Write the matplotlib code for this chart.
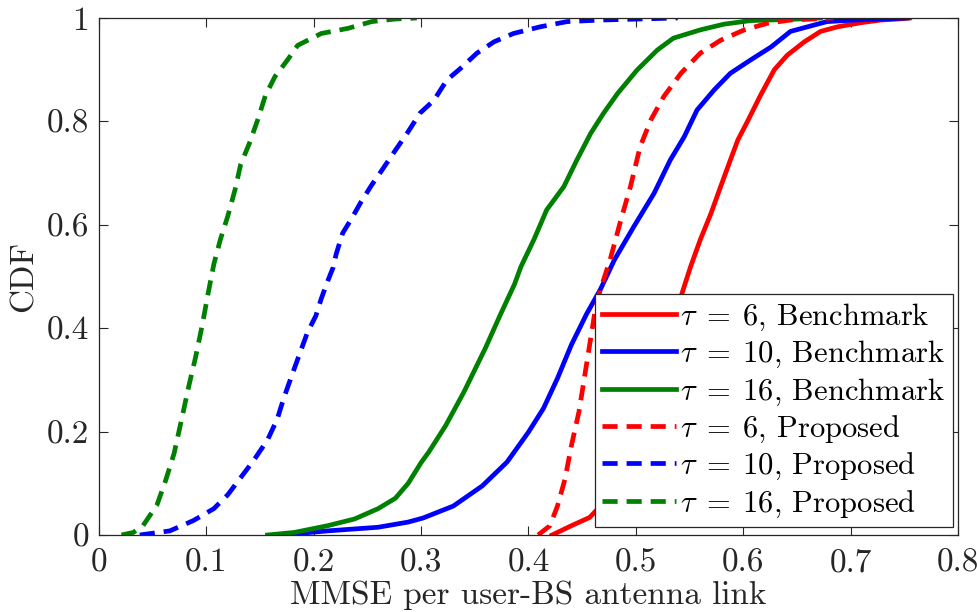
"""CDF of MMSE per user-BS antenna link: benchmark vs proposed pilot schemes."""
import matplotlib
matplotlib.use("Agg")
import matplotlib.pyplot as plt

plt.rcParams.update({"font.family": "serif", "font.serif": ["cmr10"],
                     "mathtext.fontset": "cm", "axes.unicode_minus": False})

RED = (1, 0, 0); BLUE = (0, 0, 1); GREEN = (0, 0.5, 0)

# benchmark curves
bench6_x = [0.422, 0.440, 0.457, 0.467, 0.485, 0.505, 0.525, 0.542, 0.551, 0.560, 0.570, 0.579,
            0.588, 0.595, 0.604, 0.616, 0.629, 0.641, 0.657, 0.672, 0.688, 0.710, 0.728, 0.744, 0.755]
bench6_y = [0, 0.018, 0.034, 0.056, 0.11, 0.20, 0.33, 0.461, 0.519, 0.571, 0.622, 0.674,
            0.725, 0.764, 0.80, 0.85, 0.90, 0.928, 0.954, 0.974, 0.983, 0.991, 0.996, 0.998, 1.0]
bench10_x = [0.169, 0.213, 0.260, 0.288, 0.302, 0.330, 0.357, 0.380, 0.400, 0.414, 0.427, 0.440,
             0.454, 0.467, 0.480, 0.498, 0.517, 0.532, 0.545, 0.557, 0.573, 0.588, 0.607, 0.626,
             0.644, 0.660, 0.678, 0.703, 0.730, 0.753]
bench10_y = [0, 0.008, 0.015, 0.025, 0.033, 0.056, 0.095, 0.141, 0.199, 0.245, 0.303, 0.368,
             0.427, 0.475, 0.532, 0.596, 0.661, 0.725, 0.770, 0.822, 0.861, 0.893, 0.919, 0.944,
             0.974, 0.983, 0.993, 0.996, 0.998, 1.0]
bench16_x = [0.157, 0.182, 0.213, 0.238, 0.260, 0.276, 0.288, 0.300, 0.307, 0.323, 0.340, 0.360,
             0.374, 0.387, 0.393, 0.405, 0.417, 0.433, 0.445, 0.458, 0.470, 0.483, 0.501, 0.520,
             0.535, 0.560, 0.582, 0.607, 0.640, 0.672]
bench16_y = [0, 0.005, 0.018, 0.031, 0.051, 0.071, 0.100, 0.140, 0.160, 0.212, 0.277, 0.362,
             0.427, 0.485, 0.519, 0.571, 0.629, 0.674, 0.725, 0.777, 0.816, 0.854, 0.899, 0.938,
             0.961, 0.977, 0.988, 0.995, 0.997, 1.0]

# proposed curves
prop6_x = [0.409, 0.420, 0.427, 0.434, 0.440, 0.447, 0.452, 0.457, 0.462, 0.467, 0.476, 0.486,
           0.495, 0.504, 0.514, 0.526, 0.542, 0.560, 0.579, 0.601, 0.623, 0.644, 0.665, 0.684]
prop6_y = [0, 0.018, 0.056, 0.108, 0.173, 0.238, 0.303, 0.368, 0.433, 0.475, 0.532, 0.609,
           0.674, 0.751, 0.803, 0.848, 0.893, 0.932, 0.957, 0.977, 0.990, 0.996, 0.998, 1.0]
prop10_x = [0.038, 0.066, 0.088, 0.107, 0.120, 0.132, 0.144, 0.157, 0.166, 0.172, 0.180, 0.187,
            0.194, 0.202, 0.207, 0.213, 0.218, 0.221, 0.227, 0.235, 0.244, 0.254, 0.263, 0.276,
            0.287, 0.299, 0.312, 0.324, 0.337, 0.352, 0.368, 0.386, 0.411, 0.436, 0.467, 0.539]
prop10_y = [0, 0.008, 0.028, 0.051, 0.078, 0.111, 0.144, 0.184, 0.224, 0.264, 0.311, 0.351,
            0.391, 0.424, 0.457, 0.491, 0.517, 0.544, 0.584, 0.611, 0.644, 0.677, 0.704, 0.744,
            0.777, 0.816, 0.841, 0.880, 0.903, 0.932, 0.954, 0.970, 0.983, 0.993, 0.996, 1.0]
prop16_x = [0.021, 0.032, 0.041, 0.054, 0.062, 0.070, 0.077, 0.084, 0.090, 0.096, 0.102, 0.107,
            0.113, 0.120, 0.127, 0.132, 0.140, 0.148, 0.155, 0.164, 0.176, 0.185, 0.207, 0.232,
            0.254, 0.276, 0.296]
prop16_y = [0, 0.005, 0.018, 0.058, 0.105, 0.158, 0.224, 0.291, 0.344, 0.404, 0.471, 0.524,
            0.571, 0.617, 0.670, 0.717, 0.757, 0.804, 0.850, 0.887, 0.920, 0.947, 0.970, 0.980,
            0.993, 0.998, 1.0]

taus = [6, 10, 16]
xticks = [0, 0.1, 0.2, 0.3, 0.4, 0.5, 0.6, 0.7, 0.8]
xlabels = ["0", "0.1", "0.2", "0.3", "0.4", "0.5", "0.6", "0.7", "0.8"]
yticks = [0, 0.2, 0.4, 0.6, 0.8, 1]
ylabels = ["0", "0.2", "0.4", "0.6", "0.8", "1"]

fig = plt.figure(figsize=(9.77, 6.12), dpi=100)
ax = fig.add_axes([0.1013, 0.1258, 0.8792, 0.8448])

bench = [(bench6_x, bench6_y), (bench10_x, bench10_y), (bench16_x, bench16_y)]
prop = [(prop6_x, prop6_y), (prop10_x, prop10_y), (prop16_x, prop16_y)]
cols = [RED, BLUE, GREEN]
for (x, y), c, t in zip(bench, cols, taus):
    ax.plot(x, y, color=c, lw=3.4, label=rf"$\tau\;=\;{t}$, Benchmark")
for (x, y), c, t in zip(prop, cols, taus):
    ax.plot(x, y, color=c, lw=3.4, ls=(0, (3.2, 1.9)), label=rf"$\tau\;=\;{t}$, Proposed")

ax.set_xlim(0, 0.8); ax.set_ylim(0, 1)
ax.set_xticks(xticks); ax.set_xticklabels(xlabels)
ax.set_yticks(yticks); ax.set_yticklabels(ylabels)
ax.tick_params(direction="in", length=6.5, width=0.8, top=True, right=True,
               labelsize=24, colors="#262626", pad=7)
ax.tick_params(axis="x", pad=10)
for s in ax.spines.values():
    s.set_linewidth(0.9); s.set_color("#262626")
ax.set_xlabel("MMSE per user-BS antenna link", fontsize=24, color="#262626", labelpad=2)
ax.set_ylabel("CDF", fontsize=24, color="#262626", labelpad=6)

leg = ax.legend(loc="lower right", bbox_to_anchor=(0.994, 0.015), borderaxespad=0,
                fontsize=22, handlelength=2.4, handletextpad=0.15, labelspacing=0.2,
                borderpad=0.25, fancybox=False, framealpha=1, edgecolor="#262626")
leg.get_frame().set_linewidth(0.9)

fig.savefig("out.png", dpi=100)
